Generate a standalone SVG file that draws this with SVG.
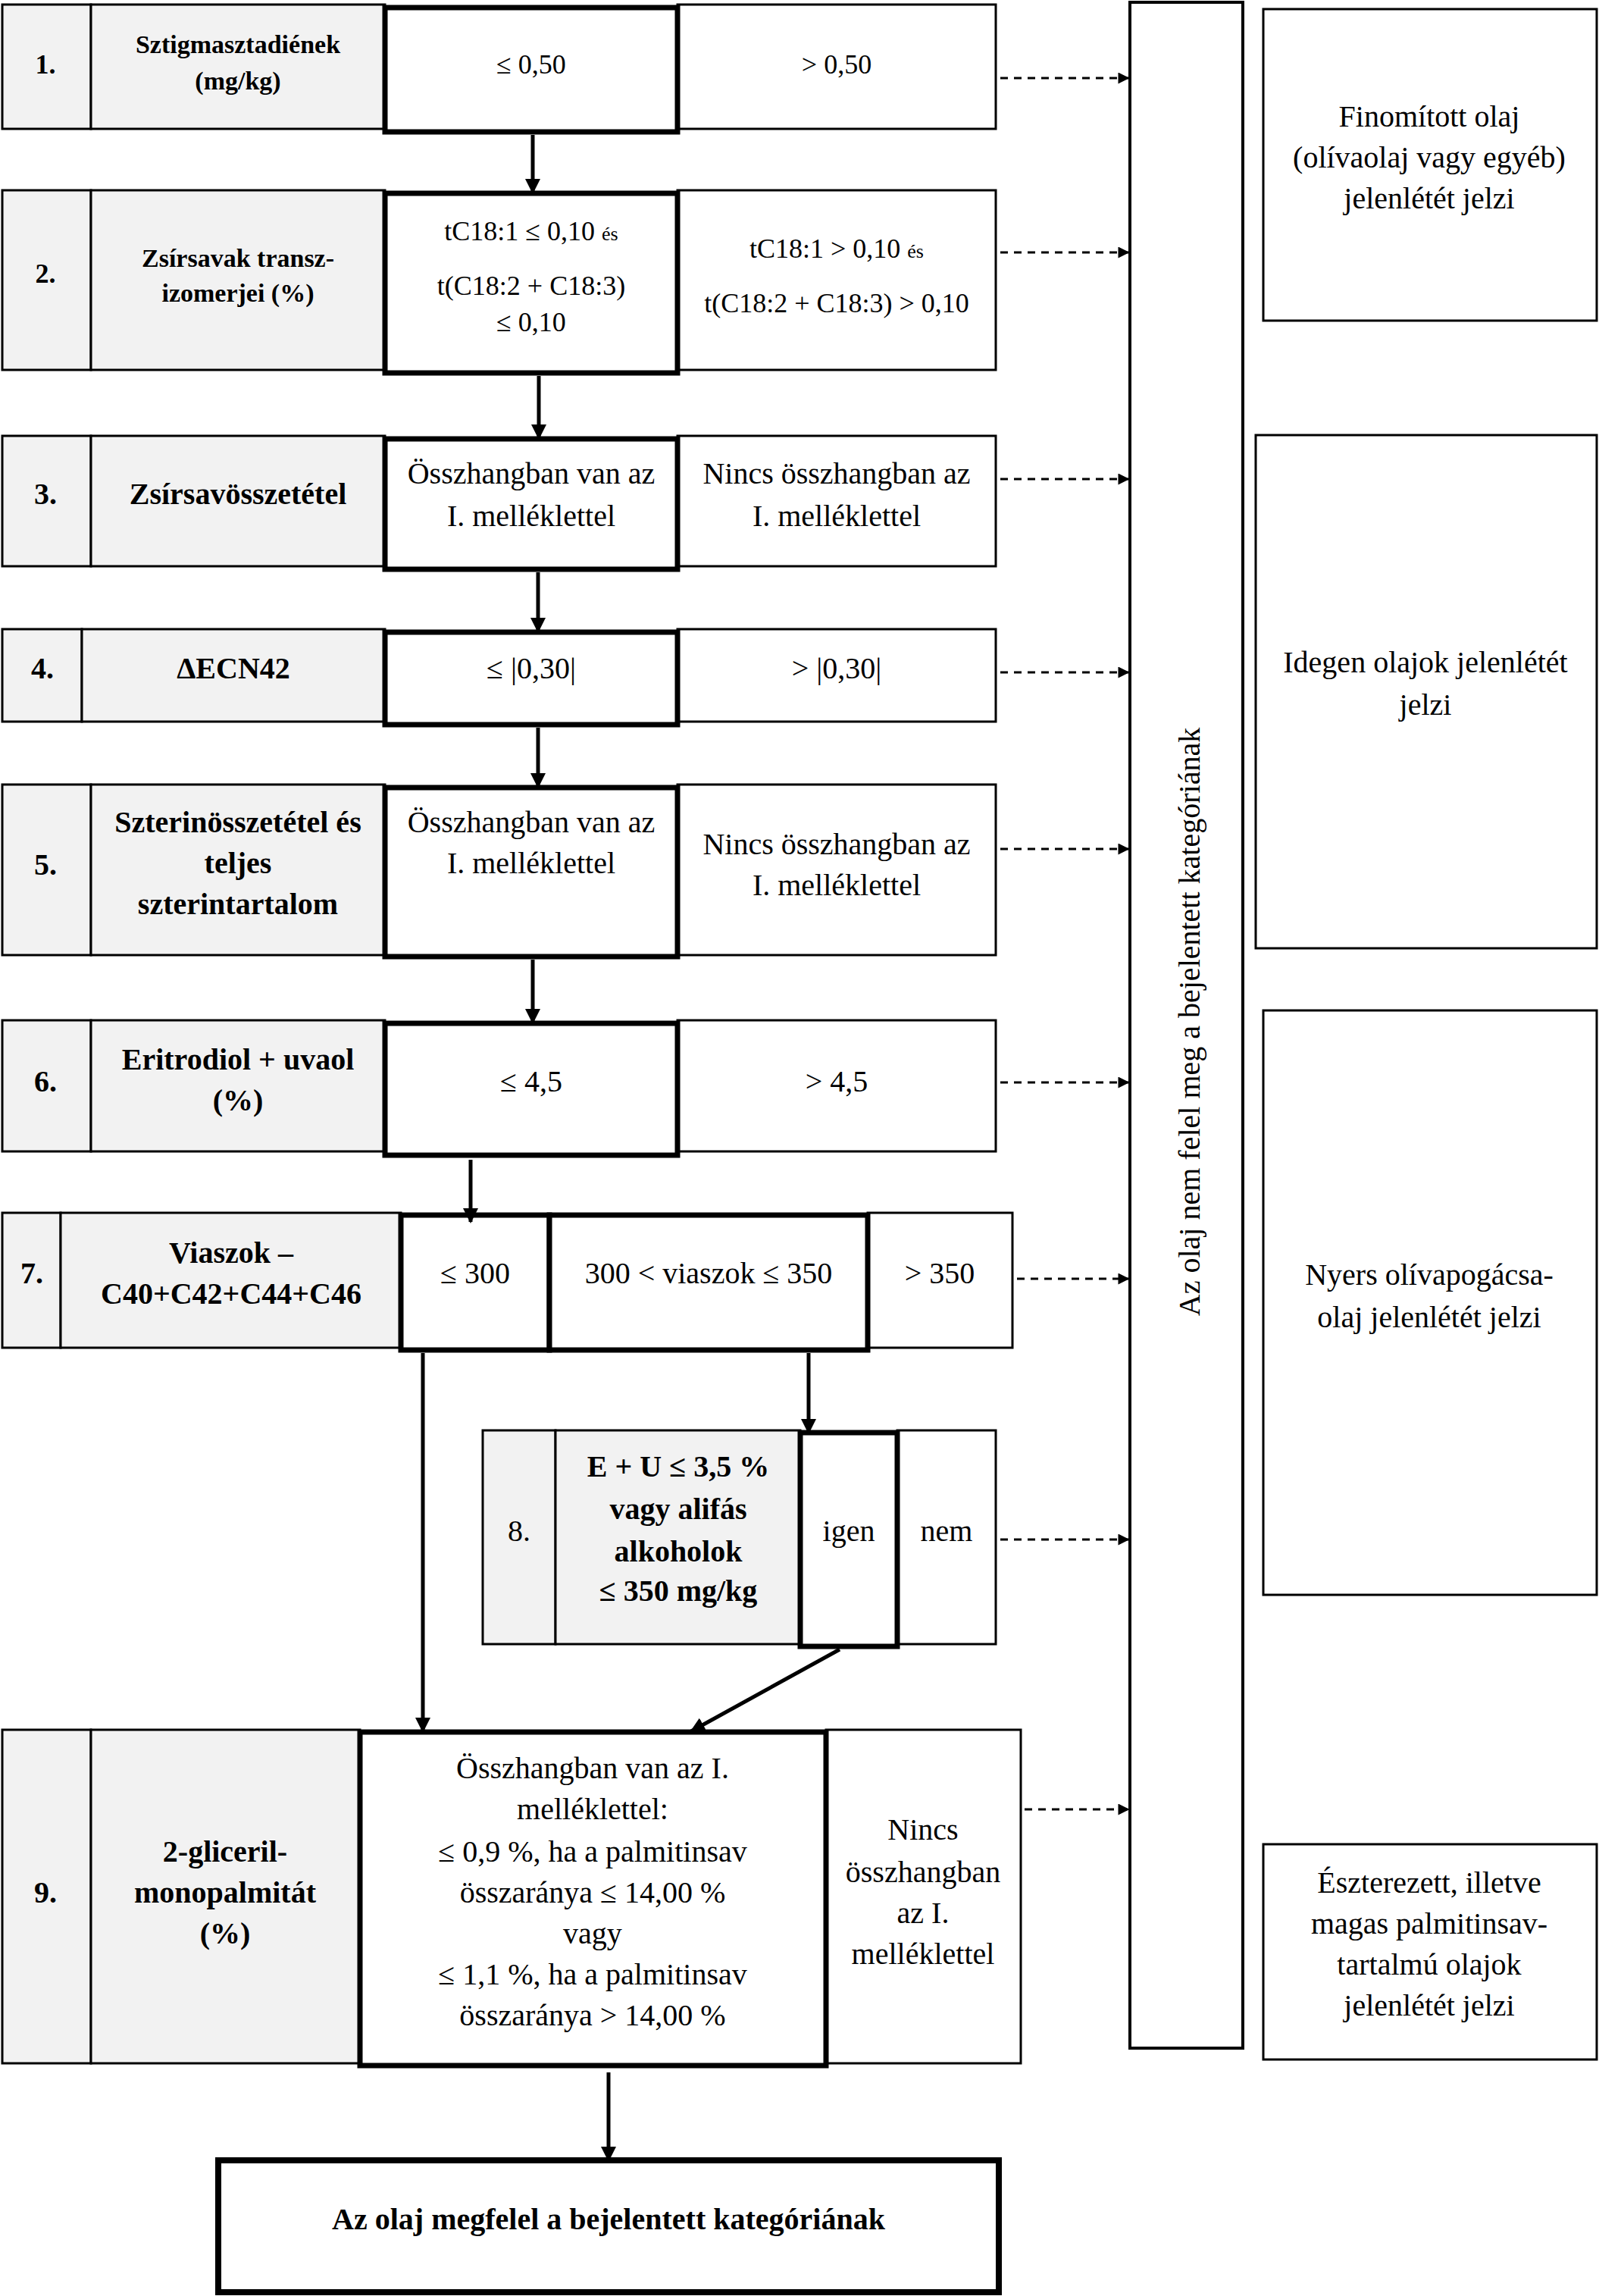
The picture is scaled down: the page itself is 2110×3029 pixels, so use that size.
<svg xmlns="http://www.w3.org/2000/svg" width="2110" height="3029" viewBox="0 0 2110 3029">
<style>
.lab{fill:#f2f2f2;stroke:#000;stroke-width:3}
.cell{fill:#fff;stroke:#000;stroke-width:3}
.thick{fill:#fff;stroke:#000;stroke-width:7}
.box{fill:#fff;stroke:#000;stroke-width:4}
text{font-family:"Liberation Serif","Times New Roman",serif;font-size:40px;text-anchor:middle;fill:#000}
.b{font-weight:bold}
.s{font-size:36px}
.sm{font-size:34px}
.arr{stroke:#000;stroke-width:5;fill:none}
.dash{stroke:#000;stroke-width:3;stroke-dasharray:10 8;fill:none}
</style>
<defs>
<marker id="ah" viewBox="0 0 10 10" refX="9" refY="5" markerWidth="4" markerHeight="5" orient="auto" markerUnits="strokeWidth">
<path d="M0,0 L10,5 L0,10 z" fill="#000"/>
</marker>
<marker id="ahd" viewBox="0 0 10 10" refX="9" refY="5" markerWidth="7" markerHeight="5" orient="auto" markerUnits="strokeWidth">
<path d="M0,0 L10,5 L0,10 z" fill="#000"/>
</marker>
</defs>

<g id="row1">
<rect x="3" y="6" width="117" height="164" class="lab"/>
<rect x="120" y="6" width="388" height="164" class="lab"/>
<rect x="894" y="6" width="420" height="164" class="cell"/>
<rect x="508" y="10" width="386" height="164" class="thick"/>
<text x="60" y="97" class="b s">1.</text>
<text x="314" y="70" class="b sm">Sztigmasztadiének</text>
<text x="314" y="118" class="b sm">(mg/kg)</text>
<text x="701" y="97" class="s">≤ 0,50</text>
<text x="1104" y="97" class="s">&gt; 0,50</text>
</g>

<g id="row2">
<rect x="3" y="251" width="117" height="237" class="lab"/>
<rect x="120" y="251" width="388" height="237" class="lab"/>
<rect x="894" y="251" width="420" height="237" class="cell"/>
<rect x="508" y="255" width="386" height="237" class="thick"/>
<text x="60" y="373" class="b s">2.</text>
<text x="314" y="352" class="b sm">Zsírsavak transz-</text>
<text x="314" y="398" class="b sm">izomerjei (%)</text>
<text x="701" y="317" class="s">tC18:1 ≤ 0,10 <tspan font-size="26">és</tspan></text>
<text x="701" y="389" class="s">t(C18:2 + C18:3)</text>
<text x="701" y="437" class="s">≤ 0,10</text>
<text x="1104" y="340" class="s">tC18:1 &gt; 0,10 <tspan font-size="26">és</tspan></text>
<text x="1104" y="412" class="s">t(C18:2 + C18:3) &gt; 0,10</text>
</g>

<g id="row3">
<rect x="3" y="575" width="117" height="172" class="lab"/>
<rect x="120" y="575" width="388" height="172" class="lab"/>
<rect x="894" y="575" width="420" height="172" class="cell"/>
<rect x="508" y="579" width="386" height="172" class="thick"/>
<text x="60" y="665" class="b">3.</text>
<text x="314" y="665" class="b">Zsírsavösszetétel</text>
<text x="701" y="638">Összhangban van az</text>
<text x="701" y="694">I. melléklettel</text>
<text x="1104" y="638">Nincs összhangban az</text>
<text x="1104" y="694">I. melléklettel</text>
</g>

<g id="row4">
<rect x="3" y="830" width="105" height="122" class="lab"/>
<rect x="108" y="830" width="400" height="122" class="lab"/>
<rect x="894" y="830" width="420" height="122" class="cell"/>
<rect x="508" y="834" width="386" height="122" class="thick"/>
<text x="56" y="895" class="b">4.</text>
<text x="308" y="895" class="b">ΔECN42</text>
<text x="701" y="895">≤ |0,30|</text>
<text x="1104" y="895">&gt; |0,30|</text>
</g>

<g id="row5">
<rect x="3" y="1035" width="117" height="225" class="lab"/>
<rect x="120" y="1035" width="388" height="225" class="lab"/>
<rect x="894" y="1035" width="420" height="225" class="cell"/>
<rect x="508" y="1039" width="386" height="223" class="thick"/>
<text x="60" y="1154" class="b">5.</text>
<text x="314" y="1098" class="b">Szterinösszetétel és</text>
<text x="314" y="1152" class="b">teljes</text>
<text x="314" y="1206" class="b">szterintartalom</text>
<text x="701" y="1098">Összhangban van az</text>
<text x="701" y="1152">I. melléklettel</text>
<text x="1104" y="1127">Nincs összhangban az</text>
<text x="1104" y="1181">I. melléklettel</text>
</g>

<g id="row6">
<rect x="3" y="1346" width="117" height="173" class="lab"/>
<rect x="120" y="1346" width="388" height="173" class="lab"/>
<rect x="894" y="1346" width="420" height="173" class="cell"/>
<rect x="508" y="1350" width="386" height="174" class="thick"/>
<text x="60" y="1440" class="b">6.</text>
<text x="314" y="1411" class="b">Eritrodiol + uvaol</text>
<text x="314" y="1465" class="b">(%)</text>
<text x="701" y="1440">≤ 4,5</text>
<text x="1104" y="1440">&gt; 4,5</text>
</g>

<g id="row7">
<rect x="3" y="1600" width="77" height="178" class="lab"/>
<rect x="80" y="1600" width="449" height="178" class="lab"/>
<rect x="1145" y="1600" width="191" height="178" class="cell"/>
<rect x="529" y="1603" width="196" height="178" class="thick"/>
<rect x="725" y="1603" width="420" height="178" class="thick"/>
<text x="42" y="1693" class="b">7.</text>
<text x="305" y="1666" class="b">Viaszok –</text>
<text x="305" y="1720" class="b">C40+C42+C44+C46</text>
<text x="627" y="1693">≤ 300</text>
<text x="935" y="1693">300 &lt; viaszok ≤ 350</text>
<text x="1240" y="1693">&gt; 350</text>
</g>

<g id="row8">
<rect x="637" y="1887" width="96" height="282" class="lab"/>
<rect x="733" y="1887" width="323" height="282" class="lab"/>
<rect x="1184" y="1887" width="130" height="282" class="cell"/>
<rect x="1056" y="1890" width="128" height="282" class="thick"/>
<text x="685" y="2033">8.</text>
<text x="895" y="1948" class="b">E + U ≤ 3,5 %</text>
<text x="895" y="2004" class="b">vagy alifás</text>
<text x="895" y="2060" class="b">alkoholok</text>
<text x="895" y="2112" class="b">≤ 350 mg/kg</text>
<text x="1120" y="2033">igen</text>
<text x="1249" y="2033">nem</text>
</g>

<g id="row9">
<rect x="3" y="2282" width="117" height="440" class="lab"/>
<rect x="120" y="2282" width="355" height="440" class="lab"/>
<rect x="1090" y="2282" width="257" height="440" class="cell"/>
<rect x="475" y="2285" width="615" height="440" class="thick"/>
<text x="60" y="2510" class="b">9.</text>
<text x="297" y="2456" class="b">2-gliceril-</text>
<text x="297" y="2510" class="b">monopalmitát</text>
<text x="297" y="2564" class="b">(%)</text>
<text x="782" y="2346">Összhangban van az I.</text>
<text x="782" y="2400">melléklettel:</text>
<text x="782" y="2456">≤ 0,9 %, ha a palmitinsav</text>
<text x="782" y="2510">összaránya ≤ 14,00 %</text>
<text x="782" y="2564">vagy</text>
<text x="782" y="2618">≤ 1,1 %, ha a palmitinsav</text>
<text x="782" y="2672">összaránya &gt; 14,00 %</text>
<text x="1218" y="2427">Nincs</text>
<text x="1218" y="2483">összhangban</text>
<text x="1218" y="2537">az I.</text>
<text x="1218" y="2591">melléklettel</text>
</g>

<g id="final">
<rect x="288" y="2850" width="1030" height="174" class="thick" style="stroke-width:8"/>
<text x="803" y="2941" class="b">Az olaj megfelel a bejelentett kategóriának</text>
</g>

<g id="reject">
<rect x="1491" y="3" width="149" height="2699" class="box"/>
<text transform="translate(1583,1348) rotate(-90)">Az olaj nem felel meg a bejelentett kategóriának</text>
</g>

<g id="boxA">
<rect x="1667" y="12" width="440" height="411" class="box" style="stroke-width:3"/>
<text x="1886" y="167">Finomított olaj</text>
<text x="1886" y="221">(olívaolaj vagy egyéb)</text>
<text x="1886" y="275">jelenlétét jelzi</text>
</g>
<g id="boxB">
<rect x="1657" y="574" width="450" height="677" class="box" style="stroke-width:3"/>
<text x="1881" y="887">Idegen olajok jelenlétét</text>
<text x="1881" y="943">jelzi</text>
</g>
<g id="boxC">
<rect x="1667" y="1333" width="440" height="771" class="box" style="stroke-width:3"/>
<text x="1886" y="1695">Nyers olívapogácsa-</text>
<text x="1886" y="1751">olaj jelenlétét jelzi</text>
</g>
<g id="boxD">
<rect x="1667" y="2433" width="440" height="284" class="box" style="stroke-width:3"/>
<text x="1886" y="2497">Észterezett, illetve</text>
<text x="1886" y="2551">magas palmitinsav-</text>
<text x="1886" y="2605">tartalmú olajok</text>
<text x="1886" y="2659">jelenlétét jelzi</text>
</g>

<g id="connectors">
<line x1="703" y1="178" x2="703" y2="254" class="arr" marker-end="url(#ah)"/>
<line x1="711" y1="496" x2="711" y2="578" class="arr" marker-end="url(#ah)"/>
<line x1="710" y1="755" x2="710" y2="833" class="arr" marker-end="url(#ah)"/>
<line x1="710" y1="960" x2="710" y2="1038" class="arr" marker-end="url(#ah)"/>
<line x1="703" y1="1266" x2="703" y2="1349" class="arr" marker-end="url(#ah)"/>
<line x1="621" y1="1530" x2="621" y2="1612" class="arr" marker-end="url(#ah)"/>
<line x1="558" y1="1785" x2="558" y2="2284" class="arr" marker-end="url(#ah)"/>
<line x1="1067" y1="1785" x2="1067" y2="1890" class="arr" marker-end="url(#ah)"/>
<line x1="1108" y1="2176" x2="912" y2="2284" class="arr" marker-end="url(#ah)"/>
<line x1="803" y1="2734" x2="803" y2="2850" class="arr" marker-end="url(#ah)"/>
<line x1="1320" y1="103" x2="1489" y2="103" class="dash" marker-end="url(#ahd)"/>
<line x1="1320" y1="333" x2="1489" y2="333" class="dash" marker-end="url(#ahd)"/>
<line x1="1320" y1="632" x2="1489" y2="632" class="dash" marker-end="url(#ahd)"/>
<line x1="1320" y1="887" x2="1489" y2="887" class="dash" marker-end="url(#ahd)"/>
<line x1="1320" y1="1120" x2="1489" y2="1120" class="dash" marker-end="url(#ahd)"/>
<line x1="1320" y1="1428" x2="1489" y2="1428" class="dash" marker-end="url(#ahd)"/>
<line x1="1342" y1="1687" x2="1489" y2="1687" class="dash" marker-end="url(#ahd)"/>
<line x1="1320" y1="2031" x2="1489" y2="2031" class="dash" marker-end="url(#ahd)"/>
<line x1="1352" y1="2387" x2="1489" y2="2387" class="dash" marker-end="url(#ahd)"/>
</g>
</svg>
